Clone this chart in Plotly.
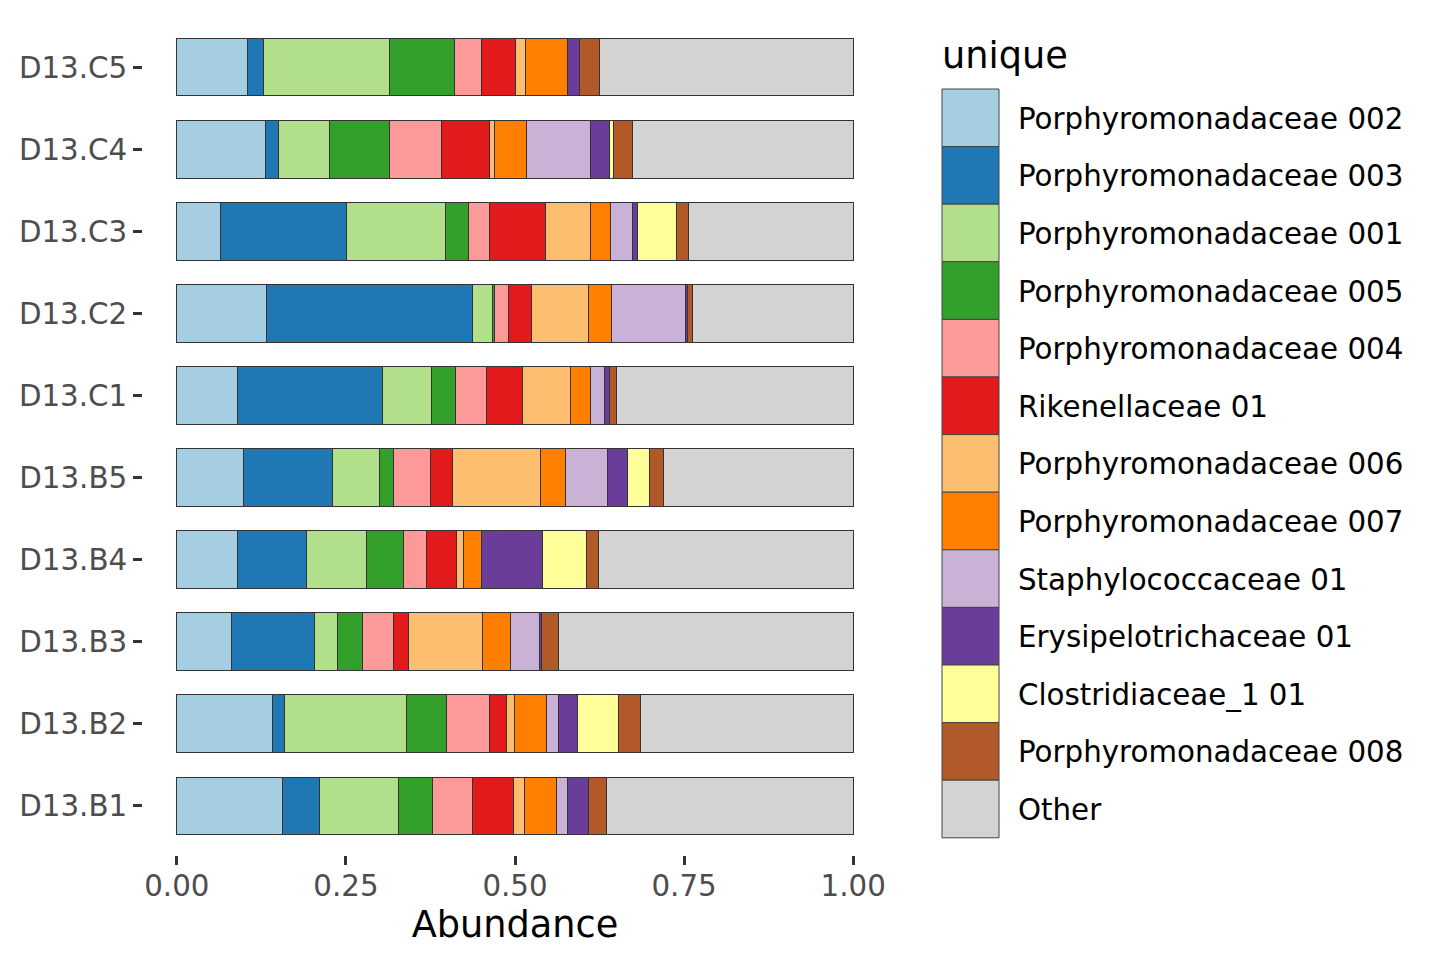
import plotly.graph_objects as go

# samples, bottom to top
samples = ["D13.B1", "D13.B2", "D13.B3", "D13.B4", "D13.B5",
           "D13.C1", "D13.C2", "D13.C3", "D13.C4", "D13.C5"]

# relative abundance per taxon, same order as samples
porph_002 = [0.156, 0.141, 0.081, 0.089, 0.098, 0.089, 0.132, 0.065, 0.131, 0.104]
porph_003 = [0.055, 0.018, 0.122, 0.102, 0.132, 0.215, 0.305, 0.186, 0.020, 0.024]
porph_001 = [0.117, 0.180, 0.034, 0.090, 0.069, 0.072, 0.029, 0.146, 0.074, 0.187]
porph_005 = [0.050, 0.060, 0.038, 0.054, 0.022, 0.036, 0.004, 0.034, 0.090, 0.095]
porph_004 = [0.059, 0.064, 0.045, 0.034, 0.054, 0.046, 0.020, 0.032, 0.077, 0.041]
riken_01 = [0.061, 0.024, 0.022, 0.045, 0.033, 0.053, 0.035, 0.082, 0.070, 0.049]
porph_006 = [0.016, 0.012, 0.110, 0.010, 0.130, 0.071, 0.084, 0.066, 0.007, 0.015]
porph_007 = [0.048, 0.048, 0.042, 0.027, 0.037, 0.030, 0.033, 0.030, 0.048, 0.063]
staph_01 = [0.015, 0.018, 0.042, 0.000, 0.062, 0.020, 0.110, 0.032, 0.094, 0.000]
erysi_01 = [0.031, 0.028, 0.003, 0.090, 0.030, 0.007, 0.003, 0.008, 0.028, 0.018]
clost_01 = [0.000, 0.060, 0.000, 0.064, 0.032, 0.000, 0.000, 0.058, 0.007, 0.000]
porph_008 = [0.027, 0.033, 0.026, 0.018, 0.020, 0.011, 0.008, 0.018, 0.027, 0.029]
other = [0.365, 0.314, 0.435, 0.377, 0.281, 0.350, 0.237, 0.243, 0.327, 0.375]

taxa = ["Porphyromonadaceae 002", "Porphyromonadaceae 003", "Porphyromonadaceae 001",
        "Porphyromonadaceae 005", "Porphyromonadaceae 004", "Rikenellaceae 01",
        "Porphyromonadaceae 006", "Porphyromonadaceae 007", "Staphylococcaceae 01",
        "Erysipelotrichaceae 01", "Clostridiaceae_1 01", "Porphyromonadaceae 008", "Other"]
series = [porph_002, porph_003, porph_001, porph_005, porph_004, riken_01,
          porph_006, porph_007, staph_01, erysi_01, clost_01, porph_008, other]

# RColorBrewer Paired + lightgray for Other
colors = ["#A6CEE3", "#1F78B4", "#B2DF8A", "#33A02C", "#FB9A99", "#E31A1C",
          "#FDBF6F", "#FF7F00", "#CAB2D6", "#6A3D9A", "#FFFF99", "#B15928", "#D3D3D3"]

# page body has an 8px margin, so shift everything by it
OFF = 8
W, H = 1440 - 2 * OFF, 960 - 2 * OFF
L, R, T, B = 143 - OFF, 887 - OFF, 18 - OFF, 855 - OFF  # panel edges in px


def px_x(px):
    return (px - OFF - L) / (R - L)


def px_y(py):
    return (B - (py - OFF)) / (B - T)


fig = go.Figure()
for name, vals, col in zip(taxa, series, colors):
    fig.add_bar(
        y=samples, x=vals, name=name, orientation="h", width=0.7,
        marker=dict(color=col, line=dict(color="#333333", width=1)),
        showlegend=False,
    )

# ggplot-like legend drawn by hand (large keys)
fig.add_annotation(
    x=px_x(940), y=px_y(55), xref="paper", yref="paper",
    text="unique", showarrow=False, xanchor="left", yanchor="middle",
    font=dict(size=36.7, color="black"),
)
key = 57.6
top = 89
for i, (name, col) in enumerate(zip(taxa, colors)):
    y0 = top + i * key
    fig.add_shape(
        type="rect", xref="paper", yref="paper",
        x0=px_x(942), x1=px_x(999), y0=px_y(y0), y1=px_y(y0 + key),
        fillcolor=col, line=dict(color="#444444", width=1),
    )
    fig.add_annotation(
        x=px_x(1016), y=px_y(y0 + key / 2 + 1), xref="paper", yref="paper",
        text=name, showarrow=False, xanchor="left", yanchor="middle",
        font=dict(size=29.3, color="black"),
    )

fig.update_layout(
    barmode="stack",
    width=W, height=H,
    margin=dict(l=L, r=W - R, t=T, b=H - B, pad=0),
    plot_bgcolor="white", paper_bgcolor="white",
    font=dict(family="DejaVu Sans", color="#4D4D4D"),
)
fig.update_xaxes(
    range=[-0.05, 1.05], showgrid=False, zeroline=False, showline=False,
    automargin=False,
    tickvals=[0, 0.25, 0.5, 0.75, 1], ticktext=["0.00", "0.25", "0.50", "0.75", "1.00"],
    ticks="outside", ticklen=9, tickwidth=2.5, tickcolor="#333333",
    tickfont=dict(size=29.3, color="#4D4D4D"), ticklabelstandoff=-4,
    title=dict(text="Abundance", font=dict(size=36.7, color="black"), standoff=6),
)
fig.update_yaxes(
    categoryorder="array", categoryarray=samples, range=[-0.6, 9.6],
    showgrid=False, zeroline=False, showline=False, automargin=False,
    ticks="outside", ticklen=9, tickwidth=2.5, tickcolor="#333333",
    tickfont=dict(size=29.3, color="#4D4D4D"), ticklabelstandoff=0,
)

fig.write_html("out.html")
